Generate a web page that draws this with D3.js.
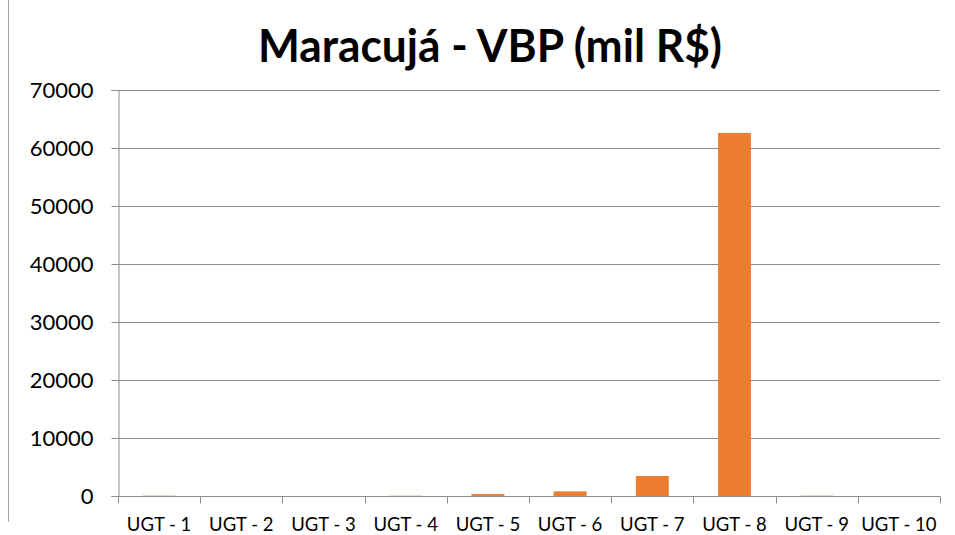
<!DOCTYPE html>
<html>
<head>
<meta charset="utf-8">
<script src="https://cdn.jsdelivr.net/npm/d3@7"></script>
<style>
  body { margin: 0; background: #fff; }
  svg { display: block; font-family: Lato, "Open Sans", sans-serif; }
</style>
</head>
<body>
<svg id="chart" width="955" height="535"></svg>
<script>
// chart data
const categories = ["UGT - 1", "UGT - 2", "UGT - 3", "UGT - 4", "UGT - 5",
                    "UGT - 6", "UGT - 7", "UGT - 8", "UGT - 9", "UGT - 10"];
const values = [60, 0, 0, 50, 350, 800, 3450, 62600, 60, 0];
const yTicks = [0, 10000, 20000, 30000, 40000, 50000, 60000, 70000];

const margin = {top: 90, right: 15, bottom: 39, left: 118};
const width = 955 - margin.left - margin.right;
const height = 535 - margin.top - margin.bottom;

const svg = d3.select("#chart");

// thin frame line on the left edge
svg.append("line")
    .attr("x1", 8.5).attr("x2", 8.5)
    .attr("y1", 0).attr("y2", 522)
    .attr("stroke", "#a6a6a6");

svg.append("text")
    .attr("x", 490)
    .attr("y", 62)
    .attr("text-anchor", "middle")
    .attr("font-size", "46px")
    .attr("font-weight", "bold")
    .attr("textLength", 464)
    .attr("lengthAdjust", "spacingAndGlyphs")
    .text("Maracujá - VBP (mil R$)");

const chart = svg.append("g")
    .attr("transform", `translate(${margin.left},${margin.top})`);

const xScale = d3.scaleBand()
    .domain(categories)
    .range([0, width])
    .paddingInner(0.6)
    .paddingOuter(0.3);

const xTicks = d3.scaleBand().domain(categories).range([0, width]);

const yScale = d3.scaleLinear()
    .domain([0, 70000])
    .range([height, 0]);

// horizontal gridlines
chart.selectAll(".grid")
    .data(yTicks.slice(1))
    .join("line")
    .attr("class", "grid")
    .attr("x1", 0).attr("x2", width)
    .attr("y1", d => Math.round(yScale(d)) + 0.5)
    .attr("y2", d => Math.round(yScale(d)) + 0.5)
    .attr("stroke", "#8c8c8c");

// y axis
const yAxisG = chart.append("g")
    .attr("transform", "translate(0.5,0)")
    .call(d3.axisLeft(yScale).tickValues(yTicks).tickSize(7).tickPadding(18).tickFormat(d3.format("d")));
yAxisG.selectAll("text").attr("font-size", "22px").attr("fill", "#000").attr("font-family", "Lato, sans-serif");
yAxisG.selectAll("line, path").attr("stroke", "#8c8c8c");

// bars
chart.selectAll(".bar")
    .data(values)
    .join("rect")
    .attr("class", "bar")
    .attr("x", (d, i) => xScale(categories[i]))
    .attr("y", d => yScale(d))
    .attr("width", xScale.bandwidth())
    .attr("height", d => height - yScale(d))
    .attr("fill", "#ed7d31");

// x axis
const xAxisG = chart.append("g")
    .attr("transform", `translate(0,${Math.round(height) + 0.5})`);
xAxisG.append("line")
    .attr("x1", 0).attr("x2", width)
    .attr("stroke", "#8c8c8c");
xAxisG.selectAll(".tick")
    .data(d3.range(categories.length + 1))
    .join("line")
    .attr("class", "tick")
    .attr("x1", i => Math.round(i * xTicks.step()) + 0.5)
    .attr("x2", i => Math.round(i * xTicks.step()) + 0.5)
    .attr("y1", 0).attr("y2", 7)
    .attr("stroke", "#8c8c8c");
xAxisG.selectAll(".label")
    .data(categories)
    .join("text")
    .attr("class", "label")
    .attr("x", d => xTicks(d) + xTicks.bandwidth() / 2)
    .attr("y", 34)
    .attr("text-anchor", "middle")
    .attr("font-size", "18.5px")
    .text(d => d);
</script>
</body>
</html>
